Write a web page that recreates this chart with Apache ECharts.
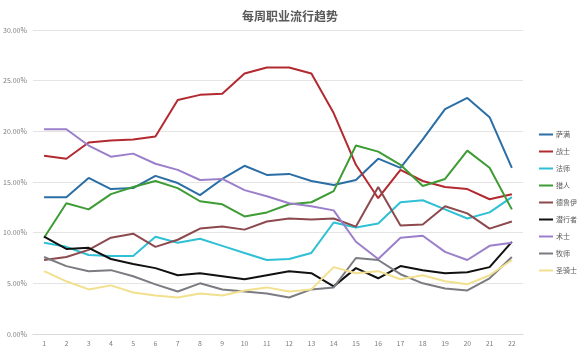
<!DOCTYPE html>
<html>
<head>
<meta charset="utf-8">
<script src="https://cdn.jsdelivr.net/npm/echarts@6/dist/echarts.min.js"></script>
<style>
  html, body { margin: 0; padding: 0; background: #fff; }
  #main { width: 580px; height: 353px; }
</style>
</head>
<body>
<div id="main"></div>
<script>
// 周数
var weeks = [];
for (var w = 1; w <= 22; w++) weeks.push(String(w));

// 各职业占比 (%)
var saman    = [13.5, 13.5, 15.4, 14.3, 14.4, 15.6, 14.9, 13.7, 15.3, 16.6, 15.7, 15.8, 15.1, 14.7, 15.2, 17.3, 16.4, 19.2, 22.2, 23.3, 21.4, 16.4];
var zhanshi  = [17.6, 17.3, 18.9, 19.1, 19.2, 19.5, 23.1, 23.6, 23.7, 25.7, 26.3, 26.3, 25.7, 21.8, 16.7, 13.4, 16.2, 15.1, 14.5, 14.3, 13.3, 13.8];
var fashi    = [9.0, 8.6, 7.8, 7.7, 7.7, 9.6, 9.0, 9.4, 8.7, 8.0, 7.3, 7.4, 8.0, 11.0, 10.5, 10.9, 13.0, 13.2, 12.3, 11.4, 12.0, 13.5];
var lieren   = [9.5, 12.9, 12.3, 13.8, 14.5, 15.1, 14.4, 13.1, 12.8, 11.6, 12.0, 12.8, 13.0, 14.1, 18.6, 18.0, 16.7, 14.6, 15.3, 18.1, 16.4, 12.3];
var deluyi   = [7.3, 7.6, 8.3, 9.5, 9.9, 8.6, 9.3, 10.4, 10.6, 10.3, 11.1, 11.4, 11.3, 11.4, 10.6, 14.5, 10.7, 10.8, 12.6, 11.9, 10.4, 11.1];
var qianxing = [9.6, 8.4, 8.5, 7.4, 6.9, 6.5, 5.8, 6.0, 5.7, 5.4, 5.8, 6.2, 6.0, 4.7, 6.5, 5.5, 6.7, 6.3, 6.0, 6.1, 6.6, 9.1];
var shushi   = [20.2, 20.2, 18.6, 17.5, 17.8, 16.8, 16.2, 15.2, 15.3, 14.2, 13.6, 12.9, 12.6, 12.2, 9.1, 7.4, 9.5, 9.7, 8.1, 7.3, 8.7, 9.0];
var mushi    = [7.6, 6.7, 6.2, 6.3, 5.7, 4.9, 4.2, 5.0, 4.4, 4.2, 4.0, 3.6, 4.4, 4.6, 7.5, 7.3, 5.9, 5.0, 4.5, 4.3, 5.5, 7.6];
var shengqi  = [6.2, 5.2, 4.4, 4.8, 4.1, 3.8, 3.6, 4.0, 3.8, 4.3, 4.6, 4.2, 4.4, 6.6, 6.0, 6.2, 5.4, 5.8, 5.2, 4.9, 5.8, 7.3];

var names = ['萨满', '战士', '法师', '猎人', '德鲁伊', '潜行者', '术士', '牧师', '圣骑士'];
var colors = ['#2b6ea6', '#b22a30', '#2fc0d6', '#3d9c34', '#8c4a4e', '#111111', '#9b7fcb', '#7b7b82', '#f2e08e'];
var datas = [saman, zhanshi, fashi, lieren, deluyi, qianxing, shushi, mushi, shengqi];

var series = [];
for (var i = 0; i < names.length; i++) {
    series.push({
        name: names[i],
        type: 'line',
        data: datas[i],
        symbol: 'none',
        lineStyle: { width: 2, color: colors[i] },
        itemStyle: { color: colors[i] }
    });
}

var mychart = echarts.init(document.getElementById('main'));

var option = {
    backgroundColor: '#fff',
    animation: false,
    textStyle: { fontFamily: 'Noto Sans CJK SC' },
    title: {
        text: '每周职业流行趋势',
        left: 'center',
        top: 5,
        textStyle: { color: '#595959', fontSize: 12, fontWeight: 'bold' }
    },
    legend: {
        orient: 'vertical',
        left: 534,
        top: 126,
        icon: 'rect',
        itemWidth: 14,
        itemHeight: 2,
        itemGap: 10,
        textStyle: { color: '#595959', fontSize: 7, padding: [0, 0, 0, -2] },
        data: names
    },
    grid: {
        left: 31,
        right: 57,
        top: 30,
        bottom: 19,
        containLabel: false
    },
    xAxis: {
        type: 'category',
        data: weeks,
        boundaryGap: true,
        axisTick: { show: false },
        axisLine: { lineStyle: { color: '#d9d9d9' } },
        axisLabel: { color: '#7f7f7f', fontSize: 7, margin: 6 }
    },
    yAxis: {
        type: 'value',
        min: 0,
        max: 30,
        interval: 5,
        axisLine: { show: false },
        axisTick: { show: false },
        splitLine: { lineStyle: { color: '#e4e4e4' } },
        axisLabel: {
            color: '#7f7f7f',
            fontSize: 7,
            margin: 6,
            formatter: function (v) { return v.toFixed(2) + '%'; }
        }
    },
    series: series
};
mychart.setOption(option);
</script>
</body>
</html>
